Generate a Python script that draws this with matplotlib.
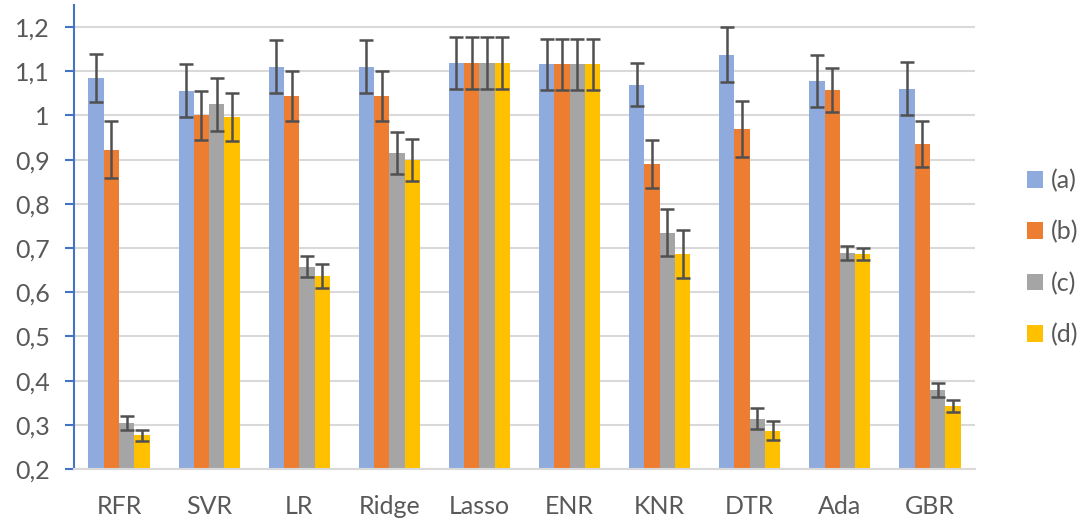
import numpy as np
import matplotlib
matplotlib.use('Agg')
import matplotlib.pyplot as plt
from matplotlib.ticker import FuncFormatter
from matplotlib.patches import Patch

models = ["RFR", "SVR", "LR", "Ridge", "Lasso", "ENR", "KNR", "DTR", "Ada", "GBR"]
series = ["(a)", "(b)", "(c)", "(d)"]

vals_a = [1.085, 1.056, 1.110, 1.110, 1.119, 1.116, 1.070, 1.138, 1.079, 1.061]
vals_b = [0.923, 1.000, 1.044, 1.044, 1.119, 1.116, 0.890, 0.970, 1.057, 0.935]
vals_c = [0.305, 1.025, 0.658, 0.915, 1.119, 1.116, 0.735, 0.314, 0.689, 0.379]
vals_d = [0.276, 0.997, 0.636, 0.899, 1.119, 1.116, 0.686, 0.287, 0.686, 0.343]

err_a = [0.055, 0.060, 0.060, 0.060, 0.058, 0.058, 0.049, 0.062, 0.059, 0.061]
err_b = [0.065, 0.055, 0.057, 0.057, 0.058, 0.058, 0.055, 0.063, 0.050, 0.052]
err_c = [0.016, 0.060, 0.023, 0.048, 0.058, 0.058, 0.054, 0.023, 0.015, 0.015]
err_d = [0.013, 0.055, 0.027, 0.048, 0.058, 0.058, 0.054, 0.021, 0.014, 0.013]

yticks = [0.2, 0.3, 0.4, 0.5, 0.6, 0.7, 0.8, 0.9, 1.0, 1.1, 1.2]

colors = ["#8faadc", "#ed7d31", "#a5a5a5", "#ffc000"]
text_color = "#595959"
grid_color = "#d9d9d9"

plt.rcParams['font.family'] = ['Lato', 'DejaVu Sans']

fig = plt.figure(figsize=(10.85, 5.29), dpi=100)
ax = fig.add_axes([0.0682, 0.1134, 0.8304, 0.8771])

x = np.arange(len(models))
width = 0.17
all_vals = [vals_a, vals_b, vals_c, vals_d]
all_errs = [err_a, err_b, err_c, err_d]
for i, (v, e) in enumerate(zip(all_vals, all_errs)):
    pos = x + (i - 1.5) * width
    ax.bar(pos, np.array(v) - 0.2, width, bottom=0.2, color=colors[i], zorder=2)
    ax.errorbar(pos, v, yerr=e, fmt='none', ecolor="#505050",
                elinewidth=1.8, capsize=5, capthick=1.8, zorder=3)

ax.set_xlim(-0.5, len(models) - 0.5)
ax.set_ylim(0.2, 1.25)
ax.set_yticks(yticks)
ax.yaxis.set_major_formatter(FuncFormatter(lambda v, p: f"{v:g}".replace('.', ',')))
ax.set_xticks(x)
ax.set_xticklabels(models)

ax.grid(axis='y', color=grid_color, linewidth=1.5, zorder=0)
ax.set_axisbelow(True)
for s in ['top', 'right']:
    ax.spines[s].set_visible(False)
ax.spines['bottom'].set_color(grid_color)
ax.spines['bottom'].set_linewidth(1.5)
ax.spines['left'].set_color("#4472c4")
ax.spines['left'].set_linewidth(1.5)

ax.tick_params(axis='y', colors="#4472c4", length=6.5, width=1.5, pad=11,
               labelcolor=text_color, labelsize=18)
ax.tick_params(axis='x', length=0, pad=19, labelcolor=text_color, labelsize=18)

handles = [Patch(facecolor=c) for c in colors]
fig.legend(handles, series, loc='center left', bbox_to_anchor=(0.9375, 0.513),
           frameon=False, fontsize=18, labelcolor=text_color,
           handlelength=0.65, handleheight=0.65, handletextpad=0.3,
           labelspacing=1.12, borderaxespad=0)

fig.savefig("out.png", dpi=100)
